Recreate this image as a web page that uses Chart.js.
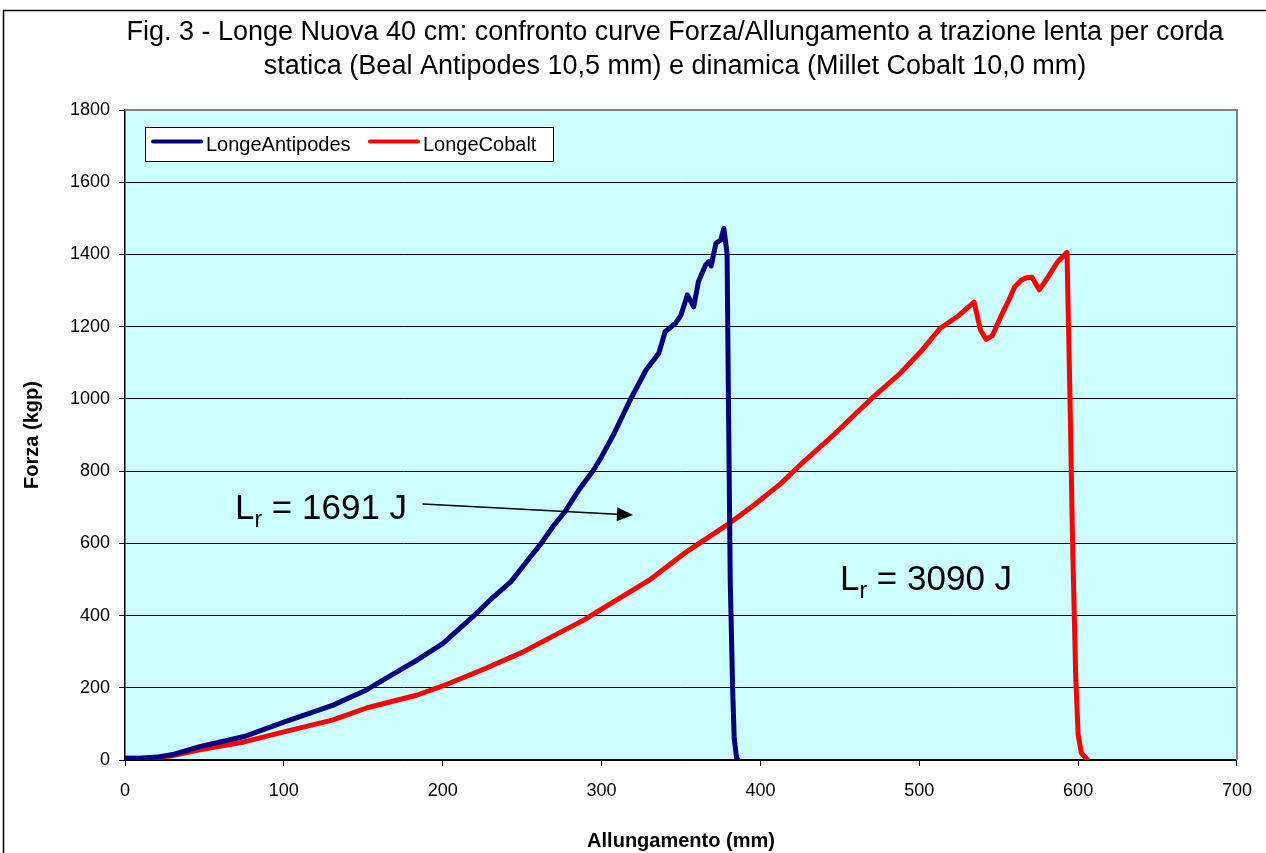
<!DOCTYPE html>
<html>
<head>
<meta charset="utf-8">
<script src="https://cdn.jsdelivr.net/npm/chart.js@4.4.1/dist/chart.umd.min.js"></script>
<style>
  html, body { margin: 0; padding: 0; background: #fff; }
  canvas { display: block; }
</style>
</head>
<body>
<canvas id="chart" width="1266" height="853"></canvas>
<script>
const titleLines = [
  'Fig. 3 - Longe Nuova 40 cm: confronto curve Forza/Allungamento a trazione lenta per corda',
  'statica (Beal Antipodes 10,5 mm) e dinamica (Millet Cobalt 10,0 mm)'
];
const seriesNames = ['LongeAntipodes', 'LongeCobalt'];

// Allungamento (mm) / Forza (kgp)
const antipodesX = [0, 10, 20, 30, 47, 75, 100, 131, 152, 165, 184, 200, 219, 232, 243, 252, 262, 270, 277, 286, 295, 300, 308, 312, 318, 328, 336, 340, 346.5, 350, 354, 358, 361, 365.5, 367.5, 369, 372, 375, 377, 379, 380, 381, 382.5, 383.5, 385, 386];
const antipodesY = [5, 5, 8, 15, 37, 65, 105, 152, 194, 228, 277, 322, 397, 452, 494, 545, 600, 650, 688, 750, 803, 840, 905, 942, 997, 1080, 1126, 1186, 1209, 1232, 1288, 1255, 1325, 1371, 1380, 1368, 1431, 1440, 1472, 1403, 941, 498, 200, 60, 5, 0];

const cobaltX = [0, 10, 20, 30, 47, 75, 100, 131, 152, 184, 200, 225, 250, 289, 300, 330, 352, 379, 396, 413, 425, 446, 469, 488, 501, 513, 524, 534.5, 538.5, 542, 546, 551, 556, 560, 564, 567, 571, 575.5, 579.5, 583, 587, 593, 595, 596.5, 598.5, 600, 602, 606];
const cobaltY = [5, 5, 7, 12, 28, 50, 78, 111, 144, 180, 205, 250, 298, 388, 418, 498, 572, 651, 706, 766, 817, 900, 997, 1071, 1131, 1195, 1228, 1268, 1191, 1165, 1175, 1225, 1270, 1310, 1328, 1335, 1337, 1302, 1327, 1351, 1379, 1406, 973, 601, 228, 70, 20, 0];

const annotations = [
  { x: 235, y: 519, value: '1691 J', arrow: [423, 504, 633, 515] },
  { x: 840, y: 590, value: '3090 J' }
];

const FONT = '"Liberation Sans", Arial, sans-serif';

const toPoints = (xs, ys) => xs.map((x, i) => ({ x: x, y: ys[i] }));

const decor = {
  id: 'decor',
  beforeDraw(chart) {
    const { ctx, chartArea: a } = chart;
    ctx.save();
    ctx.fillStyle = '#fff';
    ctx.fillRect(0, 0, chart.width, chart.height);
    ctx.fillStyle = '#CCFFFF';
    ctx.fillRect(a.left, a.top, a.right - a.left, a.bottom - a.top);
    ctx.restore();
  },
  afterDraw(chart) {
    const { ctx, chartArea: a } = chart;
    ctx.save();

    // plot area border (top/right)
    ctx.strokeStyle = '#808080';
    ctx.lineWidth = 2;
    ctx.beginPath();
    ctx.moveTo(a.left, a.top);
    ctx.lineTo(a.right, a.top);
    ctx.lineTo(a.right, a.bottom);
    ctx.stroke();

    // chart border
    ctx.strokeStyle = '#000';
    ctx.lineWidth = 1.5;
    ctx.strokeRect(3.5, 10.5, 1275, 900);

    // title
    ctx.fillStyle = '#000';
    ctx.font = '27px ' + FONT;
    ctx.textAlign = 'center';
    ctx.textBaseline = 'middle';
    ctx.fillText(titleLines[0], 675, 33);
    ctx.fillText(titleLines[1], 675, 67);

    // legend
    ctx.fillStyle = '#fff';
    ctx.fillRect(145.5, 127.5, 408, 34);
    ctx.strokeStyle = '#000';
    ctx.lineWidth = 1;
    ctx.strokeRect(145.5, 127.5, 408, 34);
    const lx = [151, 368];
    chart.data.datasets.forEach((ds, i) => {
      ctx.strokeStyle = ds.borderColor;
      ctx.lineWidth = 4;
      ctx.lineCap = 'round';
      ctx.beginPath();
      ctx.moveTo(lx[i] + 2, 141.5);
      ctx.lineTo(lx[i] + 50, 141.5);
      ctx.stroke();
      ctx.fillStyle = '#000';
      ctx.font = '20px ' + FONT;
      ctx.textAlign = 'left';
      ctx.textBaseline = 'middle';
      ctx.fillText(ds.label, lx[i] + 55, 145);
    });

    // annotations
    annotations.forEach(an => {
      ctx.fillStyle = '#000';
      ctx.textAlign = 'left';
      ctx.textBaseline = 'alphabetic';
      ctx.font = '35px ' + FONT;
      ctx.fillText('L', an.x, an.y);
      const wL = ctx.measureText('L').width;
      ctx.font = '23px ' + FONT;
      ctx.fillText('r', an.x + wL, an.y + 8);
      const wr = ctx.measureText('r').width;
      ctx.font = '35px ' + FONT;
      ctx.fillText(' = ' + an.value, an.x + wL + wr, an.y);
      if (an.arrow) {
        const [x1, y1, x2, y2] = an.arrow;
        const ang = Math.atan2(y2 - y1, x2 - x1);
        const hl = 16, hw = 7;
        const bx = x2 - hl * Math.cos(ang), by = y2 - hl * Math.sin(ang);
        ctx.strokeStyle = '#000';
        ctx.lineWidth = 1.5;
        ctx.beginPath();
        ctx.moveTo(x1, y1);
        ctx.lineTo(bx, by);
        ctx.stroke();
        ctx.beginPath();
        ctx.moveTo(x2, y2);
        ctx.lineTo(bx - hw * Math.sin(ang), by + hw * Math.cos(ang));
        ctx.lineTo(bx + hw * Math.sin(ang), by - hw * Math.cos(ang));
        ctx.closePath();
        ctx.fill();
      }
    });
    ctx.restore();
  }
};

const chart = new Chart(document.getElementById('chart').getContext('2d'), {
  type: 'line',
  data: {
    datasets: [{
      label: seriesNames[0],
      data: toPoints(antipodesX, antipodesY),
      borderColor: '#000080',
      borderWidth: 5,
      pointRadius: 0,
      tension: 0,
      borderJoinStyle: 'round',
      borderCapStyle: 'round',
      fill: false
    }, {
      label: seriesNames[1],
      data: toPoints(cobaltX, cobaltY),
      borderColor: '#FF0000',
      borderWidth: 5,
      pointRadius: 0,
      tension: 0,
      borderJoinStyle: 'round',
      borderCapStyle: 'round',
      fill: false
    }]
  },
  options: {
    responsive: false,
    animation: false,
    devicePixelRatio: 1,
    layout: { padding: { top: 110, right: 29, left: 0, bottom: 0 } },
    plugins: {
      legend: { display: false },
      title: { display: false },
      tooltip: { enabled: false }
    },
    scales: {
      x: {
        type: 'linear',
        min: 0,
        max: 700,
        afterFit(scale) { scale.height = 93; },
        ticks: { stepSize: 100, color: '#000', padding: 14, format: { useGrouping: false }, font: { family: FONT, size: 18 } },
        grid: { drawOnChartArea: false, drawTicks: true, tickLength: 6, color: '#000' },
        border: { color: '#000', width: 1.5 },
        title: { display: true, text: 'Allungamento (mm)', color: '#000', padding: { top: 0, bottom: 0 }, font: { family: FONT, size: 20, weight: 'bold' } }
      },
      y: {
        min: 0,
        max: 1800,
        afterFit(scale) { scale.width = 125; },
        ticks: { stepSize: 200, color: '#000', padding: 9, format: { useGrouping: false }, font: { family: FONT, size: 18 } },
        grid: { color: '#000', lineWidth: 1, tickLength: 6 },
        border: { color: '#000', width: 1.5 },
        title: { display: true, text: 'Forza (kgp)', color: '#000', padding: { top: 20, bottom: 0 }, font: { family: FONT, size: 20, weight: 'bold' } }
      }
    }
  },
  plugins: [decor]
});
</script>
</body>
</html>
